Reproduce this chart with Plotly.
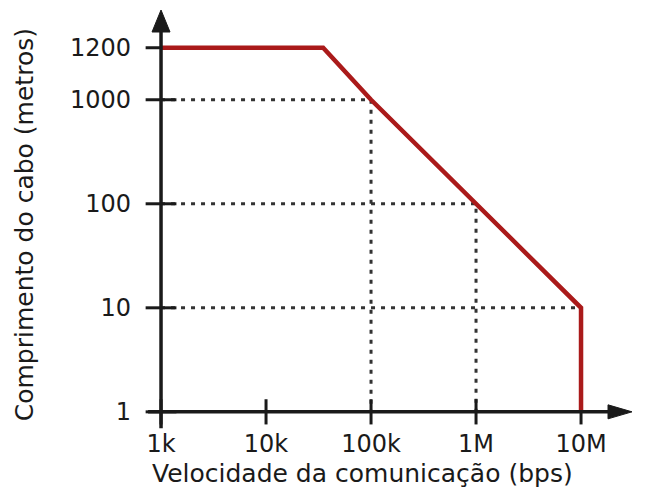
import math
import plotly.graph_objects as go

# ---- data ----
speed_bps = [1e3, 35e3, 1e5, 1e6, 1e7, 1e7]          # communication speed (bps)
length_m = [1200, 1200, 1000, 100, 10, 1]             # cable length (m)

x_tick_vals = [1e3, 1e4, 1e5, 1e6, 1e7]
x_tick_text = ["1k", "10k", "100k", "1M", "10M"]
y_tick_vals = [1, 10, 100, 1000, 1200]
y_tick_text = ["1", "10", "100", "1000", "1200"]

# guide points (dotted lines from the axes to the curve)
guide_speed = [1e5, 1e6, 1e7]
guide_length = [1000, 100, 10]

x_title = "Velocidade da comunicação (bps)"
y_title = "Comprimento do cabo (metros)"


# The reference uses a schematic vertical scale: decades for 1..1000,
# with 1200 drawn half a decade above 1000 (axis break).
def ylev(v):
    return math.log10(v) if v <= 1000 else 3.5


RED = "#aa1a1a"
INK = "#1a1a1a"
FONT = "DejaVu Sans"

fig = go.Figure()

# dotted guides
for gx, gy in zip(guide_speed, guide_length):
    fig.add_trace(go.Scatter(
        x=[x_tick_vals[0], gx, gx], y=[ylev(gy), ylev(gy), ylev(y_tick_vals[0])],
        mode="lines", line=dict(color="#333333", width=3, dash="4px,6px"),
        hoverinfo="skip", showlegend=False, cliponaxis=False))

# axis tick marks (crossing the axes)
fig.add_trace(go.Scatter(
    x=x_tick_vals, y=[ylev(y_tick_vals[0])] * len(x_tick_vals), mode="markers",
    marker=dict(symbol="line-ns", size=18, line=dict(color=INK, width=3)),
    hoverinfo="skip", showlegend=False, cliponaxis=False))
fig.add_trace(go.Scatter(
    x=[x_tick_vals[0]] * len(y_tick_vals), y=[ylev(v) for v in y_tick_vals], mode="markers",
    marker=dict(symbol="line-ew", size=22, line=dict(color=INK, width=3)),
    hoverinfo="skip", showlegend=False, cliponaxis=False))

# main curve
fig.add_trace(go.Scatter(
    x=speed_bps, y=[ylev(v) for v in length_m], mode="lines",
    line=dict(color=RED, width=4.5), hoverinfo="skip", showlegend=False,
    cliponaxis=False))

# axis lines with arrow heads
x_tip = (632 - 150) / 485
fig.add_shape(type="line", xref="paper", yref="y",
              x0=-0.004, x1=x_tip - 20 / 485, y0=0, y1=0,
              line=dict(color=INK, width=3.5))
fig.add_shape(type="path", xref="paper", yref="y", xsizemode="pixel", ysizemode="pixel",
              xanchor=x_tip, yanchor=0, path="M -24,-7 L 0,0 L -24,7 Z",
              fillcolor=INK, line=dict(color=INK, width=1))
fig.add_shape(type="line", xref="x", yref="paper",
              x0=x_tick_vals[0], x1=x_tick_vals[0], y0=-0.02, y1=1 - 18 / 402,
              line=dict(color=INK, width=3.5))
fig.add_shape(type="path", xref="x", yref="paper", xsizemode="pixel", ysizemode="pixel",
              xanchor=x_tick_vals[0], yanchor=1.0, path="M -9,-22 L 0,0 L 9,-22 Z",
              fillcolor=INK, line=dict(color=INK, width=1))

# titles
fig.add_annotation(text=x_title, xref="paper", yref="paper", x=0, y=0,
                   xanchor="left", yanchor="middle", yshift=-53, showarrow=False,
                   font=dict(family=FONT, size=25, color=INK))
fig.add_annotation(text=y_title, xref="paper", yref="paper", x=0, y=0.475,
                   xanchor="center", yanchor="middle", xshift=-126, textangle=-90,
                   showarrow=False, font=dict(family=FONT, size=25, color=INK))

fig.update_xaxes(type="log", range=[2.895, 7.514], tickvals=x_tick_vals, ticktext=x_tick_text,
                 showgrid=False, zeroline=False, showline=False, ticks="",
                 ticklabelstandoff=7, tickfont=dict(family=FONT, size=24, color=INK))
fig.update_yaxes(range=[-8 / 102, 394 / 102], tickvals=[ylev(v) for v in y_tick_vals],
                 ticktext=y_tick_text, showgrid=False, zeroline=False, showline=False,
                 ticks="", ticklabelstandoff=18, tickfont=dict(family=FONT, size=24, color=INK))

# the page body adds an 8 px margin, so the figure is 8 px smaller than the window
fig.update_layout(width=647, height=480, margin=dict(l=142, r=20, t=2, b=68),
                  plot_bgcolor="white", paper_bgcolor="white")

fig.write_html("out.html")
